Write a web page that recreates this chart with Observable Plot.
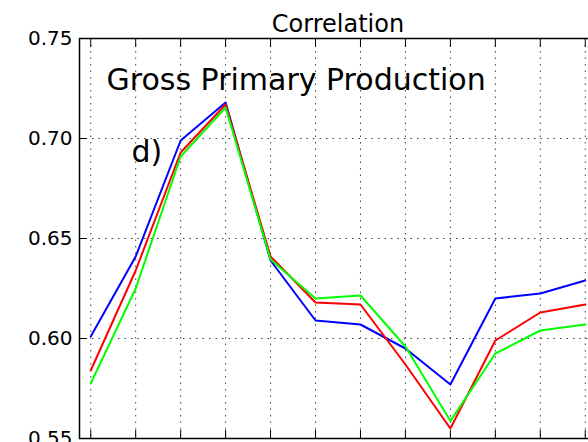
<!DOCTYPE html>
<html>
<head>
<meta charset="utf-8">
<script src="https://cdn.jsdelivr.net/npm/d3@7"></script>
<script src="https://cdn.jsdelivr.net/npm/@observablehq/plot@0.6"></script>
<style>
  html, body { margin: 0; padding: 0; background: #fff; overflow: hidden; width: 588px; height: 442px; }
  #chart svg { display: block; max-width: none !important; width: 604px !important; height: 442px !important; }
</style>
</head>
<body>
<div id="chart"></div>
<script>
const titleText = "Correlation";
const panelLabel = "Gross Primary Production";
const panelLetter = "d)";
const months = [1, 2, 3, 4, 5, 6, 7, 8, 9, 10, 11, 12];
const blueValues  = [0.601, 0.641, 0.699, 0.718, 0.639, 0.609, 0.607, 0.595, 0.577, 0.620, 0.6225, 0.629];
const redValues   = [0.584, 0.634, 0.693, 0.717, 0.641, 0.618, 0.617, 0.587, 0.555, 0.599, 0.613, 0.617];
const greenValues = [0.5775, 0.625, 0.691, 0.7155, 0.6395, 0.620, 0.6215, 0.596, 0.5587, 0.5925, 0.604, 0.607];
const yTicks = [0.55, 0.60, 0.65, 0.70, 0.75];
const yTickLabels = ["0.55", "0.60", "0.65", "0.70", "0.75"];

const seriesDefs = [
  {name: "Series A", values: blueValues, color: "#0000ff"},
  {name: "Series B", values: redValues, color: "#ff0000"},
  {name: "Series C", values: greenValues, color: "#00ff00"}
];
const rows = seriesDefs.flatMap(s => months.map((m, i) => ({series: s.name, month: m, value: s.values[i]})));

const font = "DejaVu Sans, sans-serif";
const gridStyle = {stroke: "black", strokeOpacity: 0.75, strokeWidth: 1, strokeDasharray: "1.5,5"};

const chart = Plot.plot({
  width: 604,
  height: 442,
  marginLeft: 79,
  marginRight: 8,
  marginTop: 38,
  marginBottom: 4,
  style: {fontFamily: font, background: "white", overflow: "visible", maxWidth: "none"},
  x: {domain: [0.75, 12.25], axis: null, label: null},
  y: {domain: [0.55, 0.75], axis: null, label: null},
  color: {domain: seriesDefs.map(s => s.name), range: seriesDefs.map(s => s.color)},
  marks: [
    Plot.gridX(months, {...gridStyle}),
    Plot.gridY(yTicks, {...gridStyle}),
    Plot.line(rows, {x: "month", y: "value", z: "series", stroke: "series", strokeWidth: 2}),
    Plot.axisY(yTicks, {anchor: "left", label: null, tickSize: 0, tickPadding: 7, tickFormat: (d, i) => yTickLabels[i], fontSize: 20, fill: "black"}),
    Plot.axisY(yTicks, {anchor: "left", label: null, tickSize: -8, tickFormat: () => "", stroke: "black", strokeWidth: 1}),
    Plot.axisX(months, {anchor: "top", label: null, tickSize: -8, tickFormat: () => "", stroke: "black", strokeWidth: 1}),
    Plot.axisX(months, {anchor: "bottom", label: null, tickSize: -8, tickFormat: () => "", stroke: "black", strokeWidth: 1}),
    Plot.frame({stroke: "black", strokeWidth: 1.5}),
    Plot.text([titleText], {frameAnchor: "top", lineAnchor: "bottom", dy: -7, fontSize: 24, fill: "black"}),
    Plot.text([panelLabel], {frameAnchor: "top-left", textAnchor: "start", lineAnchor: "bottom", dx: 27, dy: 51, fontSize: 30, fill: "black"}),
    Plot.text([panelLetter], {frameAnchor: "top-left", textAnchor: "start", lineAnchor: "bottom", dx: 52, dy: 123, fontSize: 30, fill: "black"})
  ]
});
document.getElementById("chart").appendChild(chart);
</script>
</body>
</html>
